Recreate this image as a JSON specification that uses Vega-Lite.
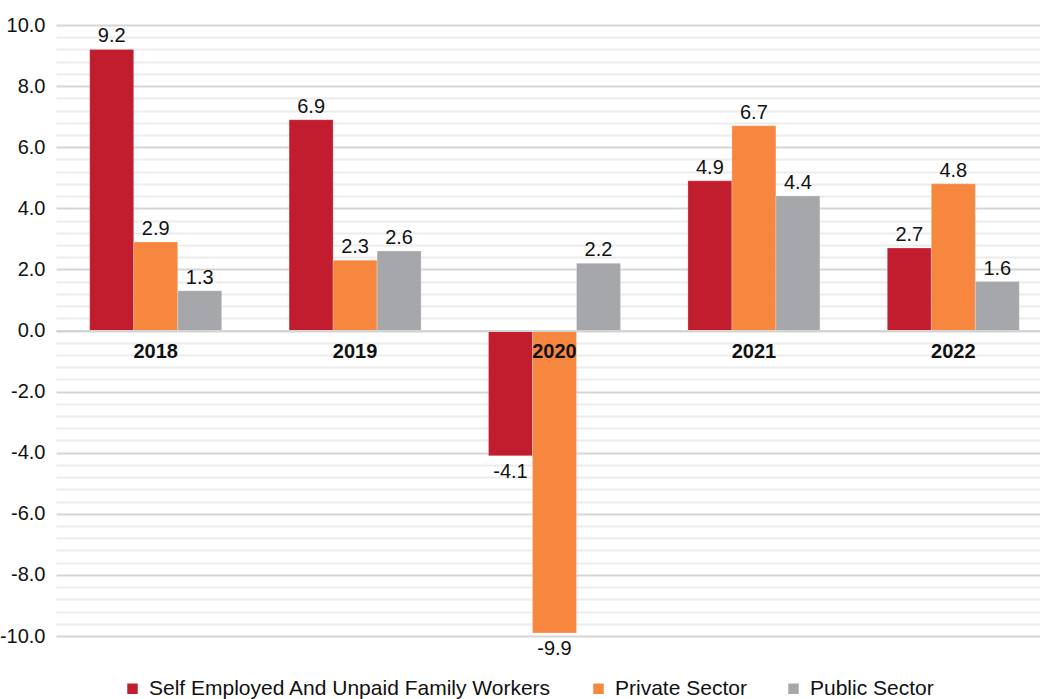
{
  "$schema": "https://vega.github.io/schema/vega-lite/v6.json",
  "autosize": "none",
  "width": 984,
  "height": 611,
  "padding": {"left": 56, "top": 25, "right": 0, "bottom": 63},
  "background": "white",
  "config": {
    "view": {"stroke": null},
    "font": "Liberation Sans",
    "text": {"font": "Liberation Sans"}
  },
  "data": {
    "values": [
      {"year": "2018", "series": "Self Employed And Unpaid Family Workers", "value": 9.2},
      {"year": "2018", "series": "Private Sector", "value": 2.9},
      {"year": "2018", "series": "Public Sector", "value": 1.3},
      {"year": "2019", "series": "Self Employed And Unpaid Family Workers", "value": 6.9},
      {"year": "2019", "series": "Private Sector", "value": 2.3},
      {"year": "2019", "series": "Public Sector", "value": 2.6},
      {"year": "2020", "series": "Self Employed And Unpaid Family Workers", "value": -4.1},
      {"year": "2020", "series": "Private Sector", "value": -9.9},
      {"year": "2020", "series": "Public Sector", "value": 2.2},
      {"year": "2021", "series": "Self Employed And Unpaid Family Workers", "value": 4.9},
      {"year": "2021", "series": "Private Sector", "value": 6.7},
      {"year": "2021", "series": "Public Sector", "value": 4.4},
      {"year": "2022", "series": "Self Employed And Unpaid Family Workers", "value": 2.7},
      {"year": "2022", "series": "Private Sector", "value": 4.8},
      {"year": "2022", "series": "Public Sector", "value": 1.6}
    ]
  },
  "encoding": {
    "x": {
      "field": "year",
      "type": "nominal",
      "scale": {"paddingInner": 0, "paddingOuter": 0, "range": [0, 997]},
      "axis": {
        "title": null,
        "orient": "bottom",
        "offset": -305.5,
        "labelAngle": 0,
        "labelFont": "Liberation Sans",
        "labelFontWeight": "bold",
        "labelFontSize": 20,
        "labelColor": "#111111",
        "labelPadding": 11,
        "ticks": false,
        "domain": true,
        "domainColor": "#d4d4d4",
        "domainWidth": 2,
        "zindex": 1
      }
    },
    "xOffset": {
      "field": "series",
      "type": "nominal",
      "sort": ["Self Employed And Unpaid Family Workers", "Private Sector", "Public Sector"],
      "scale": {"paddingInner": 0, "paddingOuter": 0.766}
    },
    "y": {
      "field": "value",
      "type": "quantitative",
      "scale": {"domain": [-10, 10], "nice": false, "zero": true},
      "axis": {
        "title": null,
        "values": [-10, -9.6, -9.2, -8.8, -8.4, -8, -7.6, -7.2, -6.8, -6.4, -6, -5.6, -5.2, -4.8, -4.4, -4, -3.6, -3.2, -2.8, -2.4, -2, -1.6, -1.2, -0.8, -0.4, 0, 0.4, 0.8, 1.2, 1.6, 2, 2.4, 2.8, 3.2, 3.6, 4, 4.4, 4.8, 5.2, 5.6, 6, 6.4, 6.8, 7.2, 7.6, 8, 8.4, 8.8, 9.2, 9.6, 10],
        "labelExpr": "abs(datum.value % 2) < 0.01 ? replace(format(datum.value, '.1f'), '\u2212', '-') : ''",
        "labelFont": "Liberation Sans",
        "labelFontSize": 20,
        "labelColor": "#111111",
        "labelPadding": 11,
        "ticks": false,
        "domain": false,
        "grid": true,
        "gridColor": {"condition": {"test": "abs(datum.value % 2) < 0.01", "value": "#d6d6d6"}, "value": "#ececec"},
        "gridWidth": 2
      }
    }
  },
  "layer": [
    {
      "mark": {"type": "bar", "stroke": "#ffffff", "strokeWidth": 0.4, "strokeOpacity": 0.6},
      "encoding": {
        "color": {
          "field": "series",
          "type": "nominal",
          "sort": ["Self Employed And Unpaid Family Workers", "Private Sector", "Public Sector"],
          "scale": {
            "domain": ["Self Employed And Unpaid Family Workers", "Private Sector", "Public Sector"],
            "range": ["#c21d2e", "#f7863f", "#a6a7aa"]
          },
          "legend": {
            "title": null,
            "orient": "none",
            "direction": "horizontal",
            "legendX": 66,
            "legendY": 653,
            "symbolType": "square",
            "symbolSize": 110,
            "symbolStrokeWidth": 0,
            "labelFont": "Liberation Sans",
            "labelFontSize": 21,
            "labelColor": "#111111",
            "labelOffset": 6,
            "columnPadding": 36,
            "labelLimit": 600
          }
        }
      }
    },
    {
      "transform": [{"filter": "datum.value >= 0"}],
      "mark": {"type": "text", "baseline": "bottom", "dy": -3, "fontSize": 20, "color": "#111111", "font": "Liberation Sans"},
      "encoding": {"text": {"field": "value", "type": "quantitative", "format": ".1f"}}
    },
    {
      "transform": [{"filter": "datum.value < 0"}],
      "mark": {"type": "text", "baseline": "top", "dy": 6, "fontSize": 20, "color": "#111111", "font": "Liberation Sans", "text": {"expr": "replace(format(datum.value, '.1f'), '\u2212', '-')"}}
    }
  ]
}
